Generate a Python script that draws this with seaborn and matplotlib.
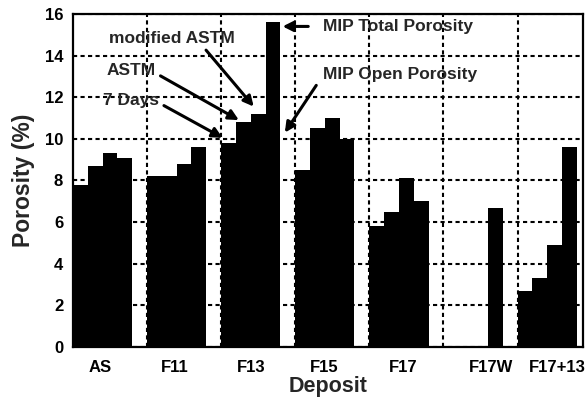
import numpy as np
import pandas as pd
import seaborn as sns
import matplotlib.pyplot as plt

deposits = ['AS', 'F11', 'F13', 'F15', 'F17', 'F17W', 'F17+13']
tests = ['7 Days', 'ASTM', 'modified ASTM', 'MIP Total Porosity']

days7 = [7.8, 8.2, 9.8, 8.5, 5.8, np.nan, 2.7]
astm = [8.7, 8.2, 10.8, 10.5, 6.5, np.nan, 3.3]
mod_astm = [9.3, 8.8, 11.2, 11.0, 8.1, np.nan, 4.9]
mip_total = [9.1, 9.6, 15.6, 10.0, 7.0, 6.7, 9.6]
mip_open_f13 = 10.3

# shift of the deposit labels under each group (as printed)
label_shift = [-0.03, -0.03, 0.01, -0.01, 0.06, 0.24, 0.14]

rows = []
for name, vals in zip(tests, [days7, astm, mod_astm, mip_total]):
    for d, v in zip(deposits, vals):
        rows.append({'deposit': d, 'test': name, 'porosity': v})
df = pd.DataFrame(rows).dropna()

sns.set_theme(style='white')
plt.rcParams['font.family'] = ['Liberation Sans', 'DejaVu Sans']
plt.rcParams['font.weight'] = 'bold'

fig = plt.figure(figsize=(5.88, 3.98), dpi=100)
ax = fig.add_axes([0.124, 0.128, 0.867, 0.837])

sns.barplot(data=df, x='deposit', y='porosity', hue='test',
            order=deposits, hue_order=tests,
            palette=['black'] * 4, saturation=1, width=0.8,
            errorbar=None, legend=False, linewidth=0, ax=ax)

ax.set_xlim(-0.4, 6.48)
ax.set_ylim(0, 16)
ax.set_yticks(np.arange(0, 17, 2))
ax.set_xticks([i + s for i, s in enumerate(label_shift)])
ax.set_xticklabels(deposits, fontsize=12, fontweight='bold')
ax.set_xticks([i + 0.6 for i in range(6)], minor=True)
for lab in ax.get_yticklabels():
    lab.set_fontsize(12)
    lab.set_fontweight('bold')
ax.tick_params(axis='y', which='both', length=0, pad=7, colors='black')
ax.tick_params(axis='x', which='both', length=0, pad=9, colors='black')

ax.set_axisbelow(True)
ax.grid(True, axis='y', which='major', color='black', lw=1.5,
        linestyle=(0, (2, 1.6)))
ax.grid(True, axis='x', which='minor', color='black', lw=1.5,
        linestyle=(0, (2, 1.6)))
ax.grid(False, axis='x', which='major')
for sp in ax.spines.values():
    sp.set_color('black')
    sp.set_linewidth(1.6)

ax.set_xlabel('Deposit', fontsize=15.5, fontweight='bold', labelpad=1)
ax.set_ylabel('Porosity (%)', fontsize=16.5, fontweight='bold', labelpad=7)

arrow = dict(arrowstyle='-|>', color='black', lw=2.2, mutation_scale=15,
             shrinkA=1, shrinkB=0)
tfont = dict(fontsize=12.5, fontweight='bold', va='center')

ax.annotate('modified ASTM', xy=(2.04, 11.55), xytext=(0.94, 14.83),
            ha='center', arrowprops=dict(arrow, relpos=(0.74, 0.0)), **tfont)
ax.annotate('ASTM', xy=(1.84, 10.9), xytext=(0.39, 13.29),
            ha='center', arrowprops=dict(arrow, relpos=(1.0, 0.3)), **tfont)
ax.annotate('7 Days', xy=(1.62, 10.05), xytext=(0.39, 11.86),
            ha='center', arrowprops=dict(arrow, relpos=(1.0, 0.3)), **tfont)
ax.annotate('MIP Total Porosity', xy=(2.43, 15.4), xytext=(2.97, 15.4),
            ha='left', arrowprops=dict(arrow, relpos=(0.0, 0.5), shrinkA=8),
            **tfont)
ax.annotate('MIP Open Porosity', xy=(2.46, mip_open_f13), xytext=(2.97, 13.1),
            ha='left', arrowprops=dict(arrow, relpos=(0.0, 0.4), shrinkA=4),
            **tfont)

fig.savefig('out.png', dpi=100)
